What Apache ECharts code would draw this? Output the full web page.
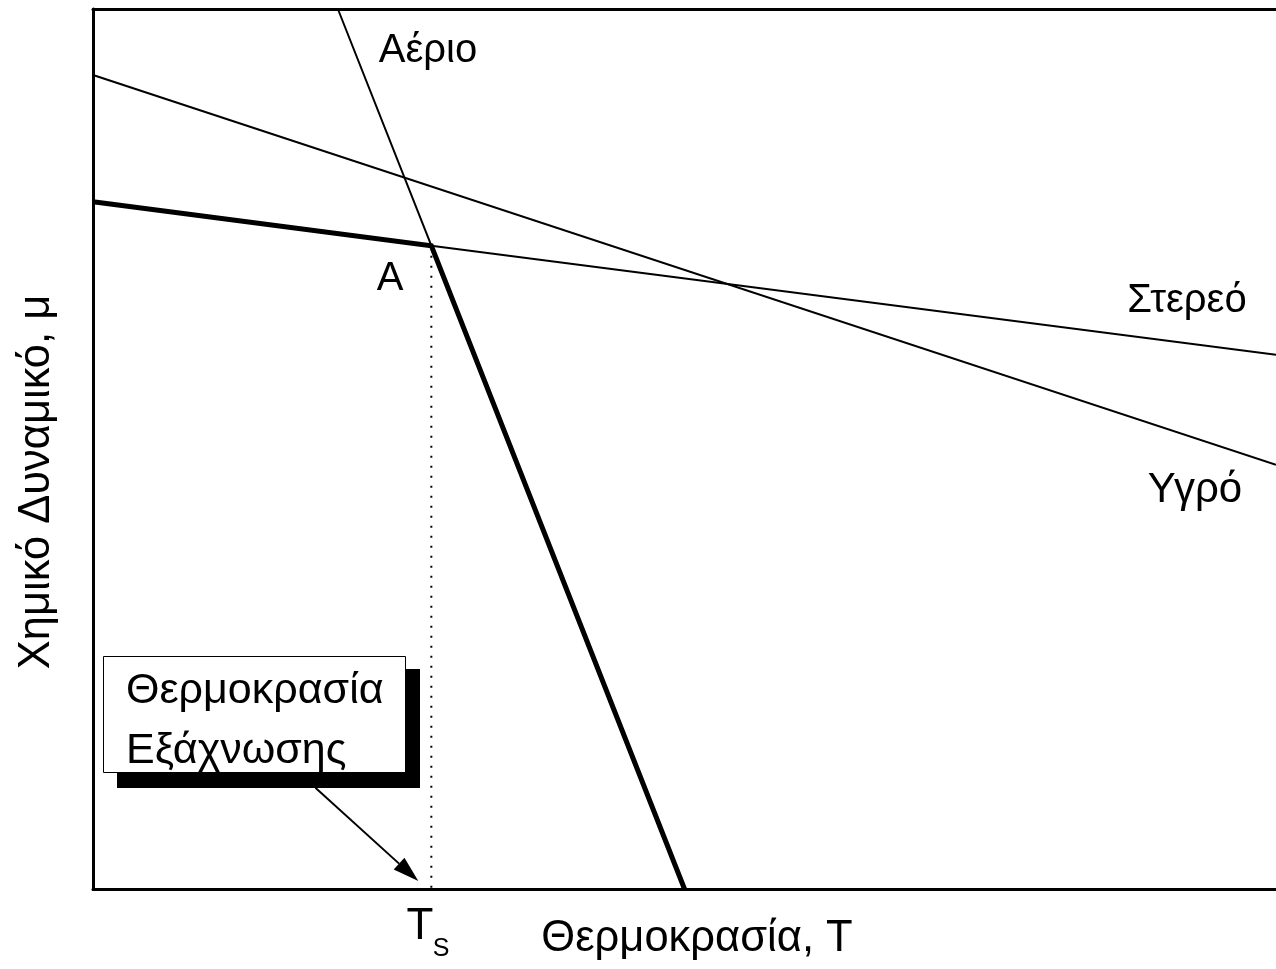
<!DOCTYPE html>
<html>
<head>
<meta charset="utf-8">
<script src="https://cdn.jsdelivr.net/npm/echarts@6/dist/echarts.min.js"></script>
<style>
  html, body { margin: 0; padding: 0; background: #fff; }
  #chart { width: 1276px; height: 969px; }
</style>
</head>
<body>
<div id="chart"></div>
<script>
// Chemical potential μ against temperature T for the three phases (arbitrary units).
const solidLine  = [[0, 7.81], [2.86, 7.31], [10, 6.07]];
const liquidLine = [[0, 9.25], [10, 4.82]];
const gasLine    = [[2.07, 10], [2.86, 7.31], [5.0, 0]];
// Point A: solid and gas curves meet at the sublimation temperature Ts
const pointA = [2.86, 7.31];
const sublimationT = 2.86;
// Stable branch: solid up to A, gas beyond it
const stableBranch = [solidLine[0], pointA, gasLine[2]];
const tsDropLine = [[sublimationT, pointA[1]], [sublimationT, 0]];

const labelTexts = {
  gas: 'Αέριο', solid: 'Στερεό', liquid: 'Υγρό', pointA: 'A',
  xTitle: 'Θερμοκρασία, T', yTitle: 'Χημικό Δυναμικό, μ',
  boxLine1: 'Θερμοκρασία', boxLine2: 'Εξάχνωσης', ts: 'T', tsSub: 'S'
};

const FONT = '"Liberation Sans", Arial, sans-serif';
const chart = echarts.init(document.getElementById('chart'), null, { renderer: 'canvas' });

const axisLine = { show: true, onZero: false, lineStyle: { color: '#000', width: 3 } };
const hidden = {
  axisTick: { show: false }, axisLabel: { show: false }, splitLine: { show: false }
};

chart.setOption({
  animation: false,
  backgroundColor: '#fff',
  grid: { left: 93, right: 0, top: 9, bottom: 80 },
  xAxis: [
    Object.assign({ type: 'value', min: 0, max: 10, position: 'bottom', axisLine }, hidden),
    Object.assign({ type: 'value', min: 0, max: 10, position: 'top', axisLine }, hidden)
  ],
  yAxis: Object.assign({ type: 'value', min: 0, max: 10, position: 'left', axisLine }, hidden),
  series: [
    { name: 'solid', type: 'line', data: solidLine, symbol: 'none', clip: true,
      lineStyle: { color: '#000', width: 2 } },
    { name: 'liquid', type: 'line', data: liquidLine, symbol: 'none', clip: true,
      lineStyle: { color: '#000', width: 2 } },
    { name: 'gas', type: 'line', data: gasLine, symbol: 'none', clip: true,
      lineStyle: { color: '#000', width: 2 } },
    { name: 'Ts', type: 'line', data: tsDropLine, symbol: 'none', clip: true,
      lineStyle: { color: '#000', width: 2, type: [2, 8] } },
    { name: 'stable', type: 'line', data: stableBranch, symbol: 'none', clip: true,
      lineStyle: { color: '#000', width: 5, join: 'miter' } }
  ]
});

// Callout box with shadow and an arrow pointing at Ts
const px = p => chart.convertToPixel({ gridIndex: 0 }, p);
const arrowFrom = px([1.88, 1.15]);
const arrowTo = px([2.75, 0.09]);
const ang = Math.atan2(arrowTo[1] - arrowFrom[1], arrowTo[0] - arrowFrom[0]);
const headLen = 26, headHalf = 8;
const base = [arrowTo[0] - headLen * Math.cos(ang), arrowTo[1] - headLen * Math.sin(ang)];
const head = [
  arrowTo,
  [base[0] + headHalf * Math.sin(ang), base[1] - headHalf * Math.cos(ang)],
  [base[0] - headHalf * Math.sin(ang), base[1] + headHalf * Math.cos(ang)]
];

const text = (t, x, y, size, align, extra) => Object.assign({
  type: 'text', x: x, y: y, z: 10,
  style: { text: t, font: size + 'px ' + FONT, fill: '#000', align: align || 'center', verticalAlign: 'middle' }
}, extra || {});

chart.setOption({
  graphic: [
    { type: 'line', z: 5, shape: { x1: arrowFrom[0], y1: arrowFrom[1], x2: base[0], y2: base[1] },
      style: { stroke: '#000', lineWidth: 2 } },
    { type: 'polygon', z: 5, shape: { points: head }, style: { fill: '#000' } },
    { type: 'rect', z: 6, shape: { x: 117, y: 669, width: 303, height: 119 }, style: { fill: '#000' } },
    { type: 'rect', z: 7, shape: { x: 103.5, y: 656.5, width: 302, height: 116 },
      style: { fill: '#fff', stroke: '#000', lineWidth: 1 } },
    text(labelTexts.boxLine1, 126, 691, 43, 'left', { z: 8 }),
    text(labelTexts.boxLine2, 126, 751, 43, 'left', { z: 8 }),
    text(labelTexts.gas, 428, 51, 40),
    text(labelTexts.pointA, 390, 279, 40),
    text(labelTexts.solid, 1187, 301, 40),
    text(labelTexts.liquid, 1195, 490, 42),
    text(labelTexts.ts, 420, 927, 44),
    text(labelTexts.tsSub, 441, 949, 25),
    text(labelTexts.xTitle, 697, 939, 43.5),
    text(labelTexts.yTitle, 37, 482, 43.5, 'center', { rotation: Math.PI / 2 })
  ]
});
</script>
</body>
</html>
